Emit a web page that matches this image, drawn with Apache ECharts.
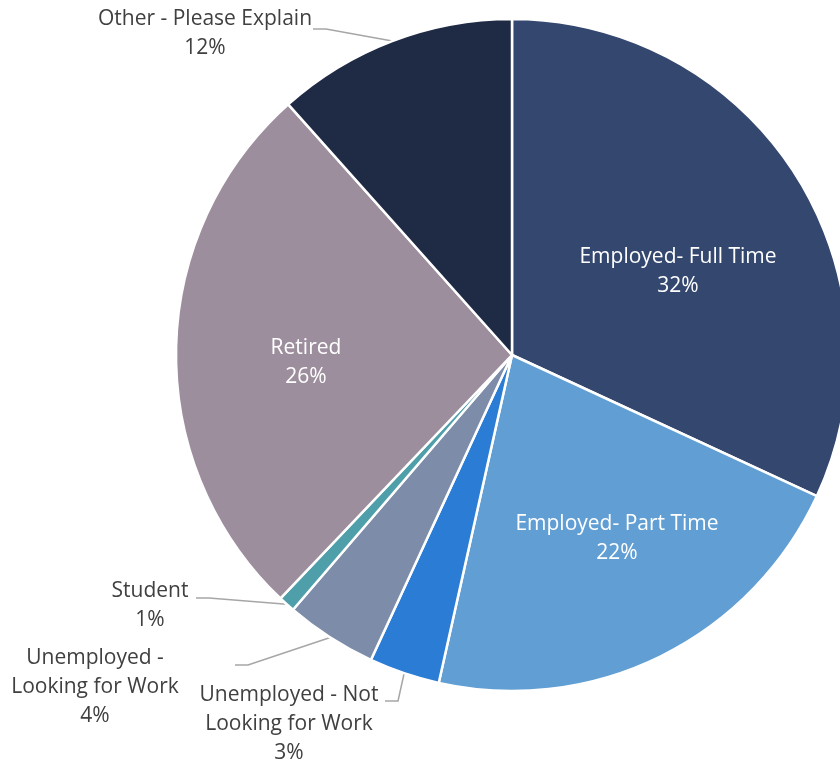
<!DOCTYPE html>
<html>
<head>
<meta charset="utf-8">
<script src="https://cdn.jsdelivr.net/npm/echarts@6/dist/echarts.min.js"></script>
<style>
  html, body { margin: 0; padding: 0; background: #ffffff; }
  #chart { width: 840px; height: 766px; }
</style>
</head>
<body>
<div id="chart"></div>
<script>
// Employment status of respondents, share of all answers (%)
const categories = [
  'Employed- Full Time',
  'Employed- Part Time',
  'Unemployed - Not Looking for Work',
  'Unemployed - Looking for Work',
  'Student',
  'Retired',
  'Other - Please Explain'
];
const shares = [31.9, 21.6, 3.4, 4.4, 0.8, 26.3, 11.6];

// How each category name is broken over lines in its label
const labelNames = [
  'Employed- Full Time',
  'Employed- Part Time',
  'Unemployed - Not\nLooking for Work',
  'Unemployed -\nLooking for Work',
  'Student',
  'Retired',
  'Other - Please Explain'
];

const sliceColors = ['#34476f', '#619ed3', '#2b7cd5', '#7d8ca8', '#4f9faa', '#9d8e9e', '#1f2a45'];

// Label placement: centre of the text block, and for callouts the point
// where the leader line meets the text.
const labelSpots = [
  { at: [678, 272] },
  { at: [617, 539] },
  { at: [289, 724], hook: [385, 701] },
  { at: [95, 687], hook: [235, 665] },
  { at: [150, 606], hook: [196, 598] },
  { at: [306, 363] },
  { at: [205, 34], hook: [313, 29] }
];

const chart = echarts.init(document.getElementById('chart'), null, { renderer: 'canvas' });

const pieData = categories.map(function (name, i) {
  const inside = !labelSpots[i].hook;
  return {
    name: name,
    value: shares[i],
    itemStyle: { color: sliceColors[i] },
    label: inside
      ? { position: 'inside', color: '#ffffff' }
      : { position: 'outside', color: '#404040' },
    labelLine: { show: !inside }
  };
});

chart.setOption({
  animation: false,
  backgroundColor: '#ffffff',
  series: [{
    type: 'pie',
    center: [512, 355],
    radius: 336,
    startAngle: 90,
    clockwise: true,
    avoidLabelOverlap: false,
    percentPrecision: 0,
    itemStyle: { borderColor: '#ffffff', borderWidth: 2.5 },
    label: {
      position: 'outside',
      fontFamily: '"Open Sans", sans-serif',
      fontSize: 21,
      lineHeight: 29,
      formatter: function (p) {
        return labelNames[p.dataIndex] + '\n' + p.percent + '%';
      }
    },
    labelLine: {
      show: true,
      length: 20,
      length2: 15,
      lineStyle: { color: '#a6a6a6', width: 1.5 }
    },
    labelLayout: function (p) {
      const spot = labelSpots[p.dataIndex];
      const out = { x: spot.at[0], y: spot.at[1], align: 'center', verticalAlign: 'middle' };
      if (spot.hook && p.labelLinePoints) {
        const edge = p.labelLinePoints[0];
        out.labelLinePoints = [
          [edge[0], edge[1]],
          [spot.hook[0] + 13, spot.hook[1]],
          [spot.hook[0], spot.hook[1]]
        ];
      }
      return out;
    },
    data: pieData
  }]
});
</script>
</body>
</html>
